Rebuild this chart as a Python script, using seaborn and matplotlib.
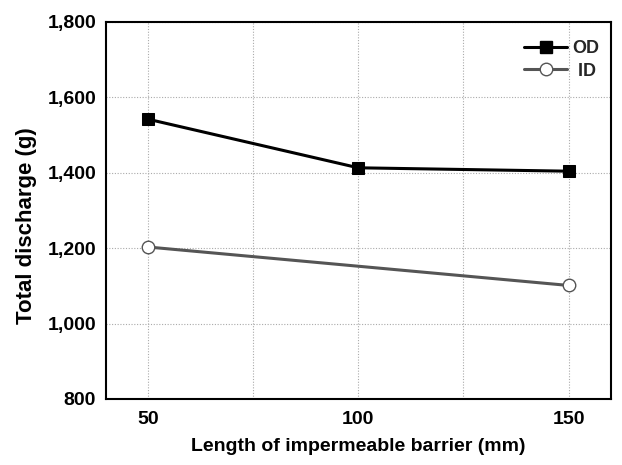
import matplotlib
matplotlib.use("Agg")
import matplotlib.pyplot as plt
import seaborn as sns
import pandas as pd
from matplotlib.lines import Line2D
from matplotlib.ticker import FuncFormatter

barrier_od = [50, 100, 150]
discharge_od = [1542, 1413, 1404]
barrier_id = [50, 150]
discharge_id = [1203, 1101]
x_ticks = [50, 100, 150]
x_grid = [50, 75, 100, 125, 150]
y_ticks = [800, 1000, 1200, 1400, 1600, 1800]

sns.set_theme(style="white")
plt.rcParams['font.family'] = ['Liberation Sans', 'DejaVu Sans']
plt.rcParams['font.weight'] = 'bold'

df_od = pd.DataFrame({"x": barrier_od, "y": discharge_od})
df_id = pd.DataFrame({"x": barrier_id, "y": discharge_id})

fig = plt.figure(figsize=(6.22, 4.65), dpi=100)
ax = fig.add_axes([0.170, 0.142, 0.812, 0.811])

sns.lineplot(data=df_od, x="x", y="y", ax=ax, color="black", linewidth=2.2,
             marker="s", markersize=8.5, markerfacecolor="black",
             markeredgecolor="black", zorder=4)
sns.lineplot(data=df_id, x="x", y="y", ax=ax, color="#555555", linewidth=2.2,
             marker="o", markersize=9, markerfacecolor="white",
             markeredgecolor="#555555", markeredgewidth=1.0, zorder=3)

ax.set_xlim(40, 160)
ax.set_ylim(800, 1800)
ax.set_xticks(x_grid)
ax.set_xticklabels([str(v) if v in x_ticks else "" for v in x_grid])
ax.set_yticks(y_ticks)
ax.yaxis.set_major_formatter(FuncFormatter(lambda v, p: f"{int(v):,}"))
ax.grid(True, linestyle=(0, (1, 1.5)), color="#aaaaaa", linewidth=0.8)
ax.tick_params(axis="both", length=0, labelsize=14, labelcolor="black")
ax.tick_params(axis="x", pad=9)
ax.tick_params(axis="y", pad=7)
for lab in ax.get_xticklabels() + ax.get_yticklabels():
    lab.set_fontweight("bold")
for s in ax.spines.values():
    s.set_color("black")
    s.set_linewidth(1.5)

ax.set_xlabel("Length of impermeable barrier (mm)", fontsize=14, fontweight="bold",
              color="black")
ax.xaxis.set_label_coords(0.5, -0.103)
ax.set_ylabel("Total discharge (g)", fontsize=16, fontweight="bold", color="black")
ax.yaxis.set_label_coords(-0.137, 0.46)

handles = [
    Line2D([], [], color="black", linewidth=2.2, marker="s", markersize=8.5,
           markerfacecolor="black", markeredgecolor="black"),
    Line2D([], [], color="#555555", linewidth=2.2, marker="o", markersize=9,
           markerfacecolor="white", markeredgecolor="#555555", markeredgewidth=1.0),
]
leg = ax.legend(handles, ["OD", " ID"], loc="upper right", frameon=False,
                prop={"weight": "bold", "size": 13}, handlelength=2.4,
                handletextpad=0.3, borderaxespad=0.3, labelspacing=0.3,
                bbox_to_anchor=(1.003, 0.985))

fig.savefig("out.png", dpi=100)
